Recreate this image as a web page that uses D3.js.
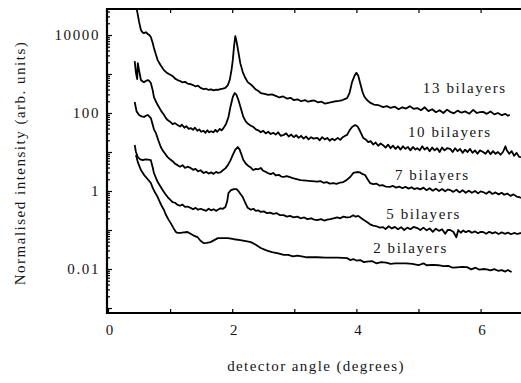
<!DOCTYPE html>
<html>
<head>
<meta charset="utf-8">
<script src="https://cdn.jsdelivr.net/npm/d3@7/dist/d3.min.js"></script>
<style>
  html, body { margin: 0; padding: 0; background: #fff; }
  svg { display: block; }
  svg text { font-family: 'Liberation Serif'; }
</style>
</head>
<body>
<svg id="chart" width="521" height="383"></svg>
<script>
// ---------------- data ----------------
const seriesNames = ["13 bilayers", "10 bilayers", "7 bilayers", "5 bilayers", "2 bilayers"];

// [detector angle (deg), normalised intensity]
const bil13 = [[0.45,60000],[0.50,22000],[0.53,13400],[0.56,11500],[0.58,11200],[0.61,11800],[0.64,10600],[0.67,9800],[0.69,8900],[0.72,6200],[0.74,4650],[0.77,3200],[0.80,2270],[0.84,1750],[0.88,1400],[0.90,1260],[0.94,1100],[0.98,1000],[1.01,940],[1.05,860],[1.08,760],[1.12,700],[1.16,660],[1.20,610],[1.24,630],[1.28,570],[1.33,550],[1.37,520],[1.41,480],[1.45,500],[1.49,440],[1.54,410],[1.58,420],[1.62,390],[1.66,405],[1.70,380],[1.74,395],[1.77,390],[1.81,410],[1.85,420],[1.89,440],[1.93,520],[1.96,700],[1.99,1300],[2.01,2300],[2.03,5200],[2.05,9400],[2.07,6800],[2.10,3650],[2.13,1900],[2.17,1120],[2.21,800],[2.25,620],[2.30,540],[2.34,465],[2.38,400],[2.42,370],[2.46,325],[2.52,310],[2.58,290],[2.64,300],[2.70,275],[2.76,250],[2.82,265],[2.88,235],[2.94,245],[2.99,215],[3.05,225],[3.11,200],[3.17,215],[3.22,195],[3.26,203],[3.32,210],[3.38,188],[3.44,195],[3.49,175],[3.53,180],[3.60,190],[3.66,200],[3.72,205],[3.78,215],[3.82,230],[3.85,240],[3.89,330],[3.93,620],[3.97,900],[4.00,1070],[4.03,900],[4.06,590],[4.10,340],[4.13,260],[4.17,215],[4.22,185],[4.28,165],[4.35,160],[4.43,142],[4.49,150],[4.55,135],[4.62,145],[4.68,125],[4.74,140],[4.80,130],[4.86,150],[4.92,128],[4.98,134],[5.04,118],[5.10,140],[5.16,112],[5.22,125],[5.28,105],[5.34,118],[5.40,100],[5.46,122],[5.51,107],[5.57,98],[5.63,115],[5.69,102],[5.75,110],[5.82,96],[5.88,120],[5.94,100],[5.99,105],[6.04,107],[6.10,95],[6.16,110],[6.22,92],[6.28,100],[6.34,88],[6.40,95],[6.44,85],[6.47,90]];

const bil10 = [[0.43,2150],[0.45,1070],[0.47,740],[0.48,1900],[0.50,1260],[0.53,700],[0.56,640],[0.58,620],[0.61,660],[0.64,700],[0.67,650],[0.69,590],[0.72,380],[0.74,255],[0.77,200],[0.80,160],[0.82,142],[0.86,110],[0.90,90],[0.93,75],[0.96,66],[1.00,60],[1.04,52],[1.08,55],[1.12,49],[1.16,45],[1.19,50],[1.23,42],[1.26,46],[1.30,39],[1.33,41],[1.37,37],[1.40,42],[1.44,35],[1.47,38],[1.50,33],[1.54,35],[1.57,31],[1.60,36],[1.63,32],[1.66,34],[1.70,32],[1.73,37],[1.76,33],[1.80,39],[1.83,36],[1.86,41],[1.90,52],[1.94,79],[1.97,140],[2.01,258],[2.04,325],[2.07,290],[2.10,215],[2.14,130],[2.18,79],[2.22,60],[2.26,52],[2.30,47],[2.34,44],[2.38,38],[2.42,36],[2.46,32],[2.50,35],[2.54,30],[2.58,33],[2.62,29],[2.66,31],[2.70,28],[2.74,32],[2.78,26],[2.83,27.5],[2.87,30],[2.91,25],[2.95,28],[2.99,24],[3.03,27],[3.07,23],[3.11,26],[3.15,22],[3.19,25],[3.23,21],[3.27,24],[3.31,22],[3.37,23],[3.41,20],[3.45,24],[3.49,21],[3.53,23],[3.57,19.5],[3.61,22],[3.65,20],[3.70,23],[3.74,20.4],[3.78,24],[3.82,26],[3.85,27.5],[3.89,36],[3.93,44],[3.98,49],[4.02,45],[4.06,34],[4.11,23],[4.15,21],[4.19,18],[4.23,19],[4.27,15.5],[4.31,17.5],[4.35,14.5],[4.39,16.5],[4.43,15],[4.47,13],[4.51,15.5],[4.55,12.5],[4.59,14.5],[4.63,12],[4.67,14],[4.71,11.5],[4.75,14],[4.79,12],[4.83,13.5],[4.87,11],[4.91,13.5],[4.95,11.5],[4.98,12.6],[5.02,11],[5.06,14],[5.10,11.5],[5.14,13],[5.18,10.5],[5.22,13],[5.26,11],[5.30,12.5],[5.34,10],[5.38,13],[5.42,11],[5.46,12.5],[5.51,12],[5.55,10],[5.59,12.5],[5.63,10.5],[5.67,12],[5.71,9.5],[5.75,11.5],[5.79,10],[5.83,12],[5.87,9.5],[5.91,11],[5.95,9],[5.99,11],[6.04,10],[6.08,9],[6.12,11],[6.16,8.8],[6.20,10.5],[6.24,9],[6.28,10],[6.32,8.5],[6.36,10],[6.40,14],[6.42,11.2],[6.46,9],[6.50,10.5],[6.54,8],[6.58,9.5],[6.62,7.5],[6.65,7.4]];

const bil7 = [[0.43,191],[0.46,110],[0.50,89],[0.54,82],[0.58,79],[0.61,85],[0.64,89],[0.67,80],[0.69,74],[0.72,50],[0.74,38],[0.77,31],[0.81,20],[0.85,13.4],[0.88,11],[0.92,9],[0.96,7.4],[1.00,6.5],[1.04,5.8],[1.08,5.0],[1.12,4.6],[1.16,4.2],[1.20,4.6],[1.24,3.9],[1.28,4.2],[1.33,3.9],[1.37,3.5],[1.41,3.7],[1.45,3.2],[1.49,3.4],[1.54,2.9],[1.58,3.1],[1.62,2.8],[1.66,3.0],[1.70,2.75],[1.74,3.1],[1.77,2.9],[1.81,3.0],[1.85,3.4],[1.89,3.8],[1.93,4.6],[1.97,6.0],[2.01,8.4],[2.05,11.5],[2.09,13.4],[2.12,11.5],[2.15,8.5],[2.18,6.2],[2.22,5.0],[2.26,4.4],[2.30,4.0],[2.34,3.45],[2.38,3.7],[2.42,3.6],[2.46,3.9],[2.50,3.3],[2.54,3.1],[2.57,2.9],[2.62,2.7],[2.66,2.9],[2.70,2.5],[2.75,2.6],[2.79,2.35],[2.83,2.29],[2.88,2.4],[2.99,2.1],[3.10,1.91],[3.37,1.75],[3.42,1.8],[3.47,1.62],[3.52,1.7],[3.57,1.55],[3.63,1.60],[3.68,1.52],[3.74,1.65],[3.79,1.70],[3.84,1.9],[3.90,2.29],[3.95,2.9],[4.01,3.07],[4.06,3.0],[4.10,2.7],[4.14,2.57],[4.18,2.0],[4.22,1.6],[4.27,1.5],[4.32,1.55],[4.37,1.38],[4.42,1.42],[4.47,1.3],[4.54,1.27],[4.59,1.35],[4.64,1.22],[4.69,1.3],[4.74,1.18],[4.79,1.28],[4.84,1.15],[4.89,1.25],[4.93,1.12],[4.98,1.19],[5.03,1.1],[5.08,1.22],[5.13,1.05],[5.18,1.18],[5.23,1.02],[5.28,1.15],[5.33,1.0],[5.38,1.12],[5.43,0.98],[5.47,1.1],[5.51,1.06],[5.56,0.95],[5.61,1.08],[5.66,0.92],[5.71,1.05],[5.76,0.9],[5.81,1.02],[5.86,0.9],[5.91,1.0],[5.96,0.87],[6.00,0.98],[6.04,0.94],[6.09,0.85],[6.14,0.97],[6.19,0.84],[6.24,0.92],[6.29,0.82],[6.34,0.9],[6.38,0.8],[6.43,0.86],[6.48,0.75],[6.53,0.82],[6.58,0.72],[6.62,0.7],[6.65,0.66]];

const bil5 = [[0.43,15.1],[0.45,10],[0.48,7.4],[0.52,6.5],[0.56,6.2],[0.60,6.5],[0.65,6.4],[0.69,6.2],[0.72,4.0],[0.74,2.9],[0.78,2.0],[0.81,1.6],[0.85,1.27],[0.89,1.0],[0.92,0.85],[0.96,0.70],[1.00,0.6],[1.04,0.52],[1.08,0.5],[1.12,0.44],[1.16,0.42],[1.20,0.45],[1.24,0.39],[1.28,0.4],[1.33,0.37],[1.37,0.34],[1.41,0.37],[1.45,0.33],[1.49,0.35],[1.54,0.33],[1.58,0.31],[1.62,0.35],[1.66,0.32],[1.70,0.34],[1.74,0.31],[1.77,0.33],[1.81,0.36],[1.85,0.35],[1.89,0.39],[1.92,0.55],[1.94,0.89],[1.98,1.05],[2.03,1.12],[2.07,1.12],[2.10,1.0],[2.13,0.85],[2.17,0.70],[2.21,0.5],[2.25,0.37],[2.30,0.33],[2.34,0.35],[2.38,0.31],[2.42,0.32],[2.46,0.29],[2.51,0.3],[2.56,0.27],[2.61,0.28],[2.66,0.26],[2.72,0.27],[2.77,0.24],[2.83,0.24],[2.88,0.22],[2.93,0.23],[2.99,0.21],[3.05,0.22],[3.10,0.2],[3.16,0.21],[3.21,0.19],[3.27,0.2],[3.32,0.185],[3.37,0.18],[3.43,0.19],[3.48,0.175],[3.53,0.185],[3.58,0.19],[3.63,0.2],[3.69,0.21],[3.74,0.20],[3.79,0.22],[3.84,0.21],[3.90,0.215],[3.95,0.24],[3.99,0.22],[4.03,0.23],[4.08,0.2],[4.12,0.18],[4.17,0.16],[4.22,0.14],[4.27,0.13],[4.32,0.125],[4.38,0.115],[4.43,0.119],[4.47,0.105],[4.52,0.125],[4.57,0.11],[4.62,0.12],[4.67,0.105],[4.72,0.118],[4.77,0.1],[4.82,0.115],[4.87,0.105],[4.92,0.12],[4.98,0.112],[5.03,0.1],[5.08,0.115],[5.13,0.098],[5.18,0.11],[5.23,0.09],[5.28,0.108],[5.33,0.095],[5.38,0.105],[5.43,0.08],[5.47,0.1],[5.51,0.10],[5.56,0.09],[5.61,0.065],[5.64,0.1],[5.68,0.085],[5.72,0.097],[5.76,0.088],[5.81,0.095],[5.86,0.085],[5.91,0.092],[5.96,0.083],[6.00,0.09],[6.04,0.089],[6.09,0.08],[6.14,0.09],[6.19,0.082],[6.24,0.088],[6.29,0.079],[6.34,0.087],[6.39,0.08],[6.44,0.086],[6.49,0.078],[6.54,0.084],[6.59,0.079],[6.65,0.084]];

const bil2 = [[0.45,8.4],[0.48,5.5],[0.53,3.45],[0.58,2.6],[0.64,2.0],[0.69,1.60],[0.72,1.2],[0.76,0.9],[0.80,0.70],[0.84,0.5],[0.87,0.4],[0.90,0.33],[0.93,0.25],[0.97,0.19],[1.01,0.15],[1.05,0.115],[1.09,0.09],[1.12,0.084],[1.17,0.084],[1.22,0.087],[1.28,0.089],[1.33,0.08],[1.38,0.072],[1.44,0.066],[1.49,0.053],[1.54,0.046],[1.59,0.047],[1.65,0.049],[1.71,0.055],[1.77,0.062],[1.85,0.062],[1.93,0.062],[2.03,0.058],[2.13,0.055],[2.22,0.052],[2.30,0.049],[2.38,0.042],[2.46,0.0345],[2.55,0.03],[2.64,0.027],[2.74,0.025],[2.83,0.023],[2.90,0.023],[2.98,0.021],[3.05,0.022],[3.12,0.021],[3.20,0.02],[3.37,0.020],[3.50,0.0195],[3.70,0.0195],[3.85,0.019],[3.90,0.017],[3.95,0.018],[4.00,0.0165],[4.06,0.017],[4.12,0.015],[4.17,0.0155],[4.25,0.016],[4.32,0.014],[4.40,0.015],[4.48,0.0145],[4.55,0.0135],[4.62,0.014],[4.70,0.014],[4.80,0.014],[4.90,0.0135],[5.00,0.0125],[5.08,0.014],[5.13,0.0125],[5.23,0.0127],[5.32,0.0125],[5.40,0.0118],[5.48,0.012],[5.55,0.0108],[5.62,0.011],[5.70,0.0113],[5.78,0.0112],[5.85,0.0098],[5.92,0.0108],[5.98,0.0096],[6.04,0.010],[6.10,0.0098],[6.16,0.0092],[6.22,0.0099],[6.28,0.009],[6.34,0.0094],[6.40,0.0086],[6.44,0.0095],[6.47,0.0088],[6.50,0.0084]];

const seriesData = [bil13, bil10, bil7, bil5, bil2];

// axis ticks
const xTickValues = [0, 1, 2, 3, 4, 5, 6];
const xTickLabels = ["0", "", "2", "", "4", "", "6"];
const yLabelValues = [10000, 100, 1, 0.01];
const yLabelText = ["10000", "100", "1", "0.01"];

const xTitle = "detector angle (degrees)";
const yTitle = "Normalised intensity (arb. units)";

// ---------------- layout ----------------
const FONT = "'Liberation Serif'";
const INK = "#151515";
const plot = { left: 107, top: 9, bottom: 313, right: 560 };
const xDomain = [0, 7.2];
const yDomain = [7.45e-4, 4.64e4];
// label anchors (data coordinates): left edge, baseline
const labelPos = [[5.07, 326], [4.83, 24.7], [4.62, 1.97], [4.48, 0.197], [4.27, 0.0253]];

const svg = d3.select("#chart");

const x = d3.scaleLinear().domain(xDomain).range([108, 108 + 62.1 * 7.2]);
const y = d3.scaleLog().domain(yDomain).range([plot.bottom, plot.top]);

function styleText(sel, spacing) {
  sel.attr("font-family", "Liberation Serif")
     .style("font-family", FONT).style("font-size", "15px")
     .style("letter-spacing", spacing + "px").style("fill", INK);
}

// clip
svg.append("defs").append("clipPath").attr("id", "clip")
  .append("rect").attr("x", plot.left).attr("y", plot.top)
  .attr("width", plot.right - plot.left).attr("height", plot.bottom - plot.top);

// curves
const line = d3.line().x(d => x(d[0])).y(d => y(d[1]));
svg.append("g").attr("clip-path", "url(#clip)")
  .selectAll("path").data(seriesData).join("path")
  .attr("d", line)
  .attr("fill", "none")
  .attr("stroke", "#000")
  .attr("stroke-width", 1.8)
  .attr("stroke-linejoin", "round");

// labels
svg.append("g").selectAll("text").data(seriesNames).join("text")
  .attr("x", (d, i) => x(labelPos[i][0]))
  .attr("y", (d, i) => y(labelPos[i][1]))
  .text(d => d)
  .call(styleText, 1.6);

// ---- axes ----
const yMajor = d3.range(-3, 5).map(e => Math.pow(10, e));
const yMinor = [];
yMajor.forEach(v => { for (let k = 2; k <= 9; k++) { const t = v * k; if (t < yDomain[1] && t > yDomain[0]) yMinor.push(t); } });

const yAxisMajor = d3.axisRight(y).tickValues(yMajor).tickSize(5).tickFormat("");
const yAxisMinor = d3.axisRight(y).tickValues(yMinor).tickSize(3).tickFormat("");
const gy1 = svg.append("g").attr("transform", `translate(${plot.left},0)`).call(yAxisMajor);
const gy2 = svg.append("g").attr("transform", `translate(${plot.left},0)`).call(yAxisMinor);
[gy1, gy2].forEach(g => { g.select(".domain").remove(); g.selectAll("line").attr("stroke", "#000").attr("stroke-width", 1.2); });

const yAxisLabels = d3.axisLeft(y).tickValues(yLabelValues).tickSize(0).tickPadding(0)
  .tickFormat((d, i) => yLabelText[i]);
const gyl = svg.append("g").attr("transform", `translate(${plot.left - 7},0)`).call(yAxisLabels);
gyl.select(".domain").remove();
gyl.attr("font-family", "Liberation Serif");
gyl.selectAll("text").call(styleText, 1.6).attr("dy", "0.33em");

const xAxisB = d3.axisTop(x).tickValues(xTickValues).tickSize(4).tickFormat("");
const gxb = svg.append("g").attr("transform", `translate(0,${plot.bottom})`).call(xAxisB);
gxb.select(".domain").remove();
gxb.selectAll("line").attr("stroke", "#000").attr("stroke-width", 1.2);

const xAxisL = d3.axisBottom(x).tickValues(xTickValues).tickSize(0).tickPadding(0)
  .tickFormat((d, i) => xTickLabels[i]);
const gxl = svg.append("g").attr("transform", `translate(1,${plot.bottom + 11})`).call(xAxisL);
gxl.select(".domain").remove();
gxl.attr("font-family", "Liberation Serif");
gxl.selectAll("text").call(styleText, 0);

const xAxisT = d3.axisBottom(x).tickValues(xTickValues.filter(v => v > 0)).tickSize(4).tickFormat("");
const gxt = svg.append("g").attr("transform", `translate(0,${plot.top})`).call(xAxisT);
gxt.select(".domain").remove();
gxt.selectAll("line").attr("stroke", "#000").attr("stroke-width", 1.2);

// frame lines
svg.append("line").attr("x1", plot.left).attr("x2", plot.left).attr("y1", plot.top - 1).attr("y2", plot.bottom + 1)
  .attr("stroke", "#000").attr("stroke-width", 2.2);
svg.append("line").attr("x1", plot.left - 1).attr("x2", plot.right).attr("y1", plot.bottom).attr("y2", plot.bottom)
  .attr("stroke", "#000").attr("stroke-width", 2.2);
svg.append("line").attr("x1", plot.left - 1).attr("x2", plot.right).attr("y1", plot.top).attr("y2", plot.top)
  .attr("stroke", "#000").attr("stroke-width", 1.8);

// titles
svg.append("text").attr("x", 316).attr("y", 371).attr("text-anchor", "middle")
  .text(xTitle).call(styleText, 1.4);
svg.append("text").attr("transform", "translate(25,163) rotate(-90)").attr("text-anchor", "middle")
  .text(yTitle).call(styleText, 1.5);
</script>
</body>
</html>
